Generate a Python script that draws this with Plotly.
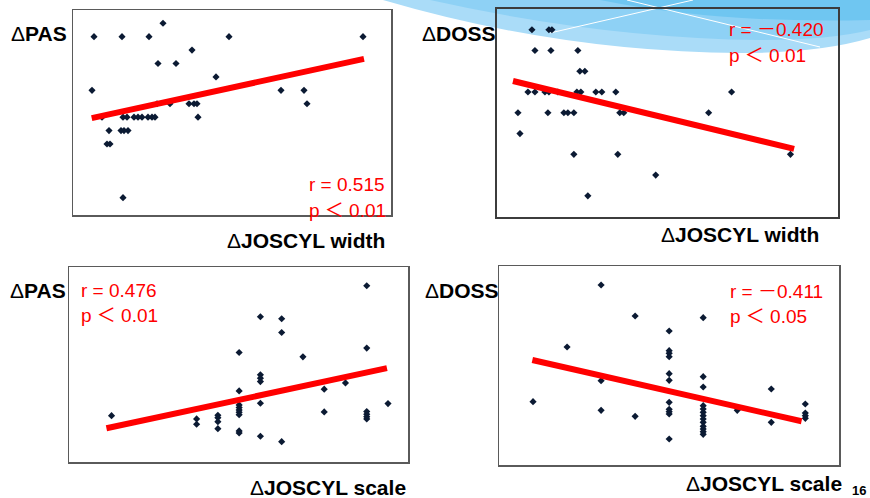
import plotly.graph_objects as go

W, H = 870, 498

# ---------------- data (arbitrary linear units) ----------------
# Panel 1: ΔJOSCYL width vs ΔPAS
p1_x = [9.0, 2.1, 4.9, 7.6, 15.6, 29.0, 11.9, 8.5, 10.3, 14.3, 1.9, 20.8, 23.1,
        8.4, 9.7, 11.6, 12.1, 12.4, 23.4,
        2.9, 5.0, 5.4, 6.1, 6.5, 6.9, 7.5, 7.9, 8.2, 12.5,
        3.6, 4.8, 5.1, 5.5, 3.4, 3.7, 5.0]
p1_y = [7, 6, 6, 6, 6, 6, 5, 4, 4, 3, 2, 2, 2,
        1, 1, 1, 1, 1, 1,
        0, 0, 0, 0, 0, 0, 0, 0, 0, 0,
        -1, -1, -1, -1, -2, -2, -6]
p1_fit_x = [1.87, 29.1]
p1_fit_y = [-0.07, 4.35]

# Panel 2: ΔJOSCYL width vs ΔDOSS
p2_x = [3.5, 5.2, 5.5, 3.8, 5.4, 8.1, 8.3, 8.8,
        3.1, 3.8, 4.8, 5.2, 6.1, 8.0, 8.4, 9.9, 10.5, 11.9, 23.5,
        2.1, 5.1, 6.7, 7.1, 7.7, 12.3, 12.7, 21.2,
        2.3, 7.7, 12.1, 29.4, 15.9, 9.1]
p2_y = [3, 3, 3, 2, 2, 2, 1, 1,
        0, 0, 0, 0, 0, 0, 0, 0, 0, 0, 0,
        -1, -1, -1, -1, -1, -1, -1, -1,
        -2, -3, -3, -3, -4, -5]
p2_fit_x = [1.6, 29.76]
p2_fit_y = [0.53, -2.74]

# Panel 3: ΔJOSCYL scale vs ΔPAS
p3_x = [0, 4, 4, 5, 5, 5, 5,
        6, 6, 6, 6, 6, 6, 6, 6, 6,
        7, 7, 7, 7, 7, 7,
        8, 8, 8, 9, 10, 10, 11,
        12, 12, 12, 12, 12, 12, 13]
p3_y = [4.63, 4.3, 3.77, 4.67, 4.43, 4.03, 3.33,
        10.93, 7.1, 5.7, 5.43, 5.2, 4.97, 4.73, 3.1, 2.9,
        14.5, 8.7, 8.37, 8.03, 5.87, 2.57,
        14.3, 12.93, 2.03, 10.5, 7.27, 5.0, 7.9,
        17.6, 11.37, 5.03, 4.77, 4.53, 4.3, 5.83]
p3_fit_x = [-0.24, 12.95]
p3_fit_y = [3.37, 9.37]

# Panel 4: ΔJOSCYL scale vs ΔDOSS
p4_x = [0, 1, 2, 2, 2, 3, 3,
        4, 4, 4, 4, 4, 4, 4, 4, 4, 4, 4,
        5, 5, 5, 5, 5, 5, 5, 5, 5, 5, 5, 5, 5,
        6, 7, 7, 8, 8, 8, 8]
p4_y = [6.33, 11.8, 18.0, 8.43, 5.47, 14.9, 4.87,
        13.4, 11.43, 11.17, 10.83, 9.13, 8.47, 6.27, 5.57, 5.33, 5.1, 2.6,
        14.73, 8.83, 7.8, 5.93, 5.6, 5.27, 4.93, 4.6, 4.27, 3.87, 3.6, 3.33, 3.07,
        5.47, 7.6, 4.27, 6.1, 5.2, 4.93, 4.67]
p4_fit_x = [-0.02, 7.89]
p4_fit_y = [10.5, 4.37]

stats = [("r = 0.515", "p ＜ 0.01"), ("r = －0.420", "p ＜ 0.01"),
         ("r = 0.476", "p ＜ 0.01"), ("r = －0.411", "p ＜ 0.05")]
y_labels = ["ΔPAS", "ΔDOSS", "ΔPAS", "ΔDOSS"]
x_labels = ["ΔJOSCYL width", "ΔJOSCYL width", "ΔJOSCYL scale", "ΔJOSCYL scale"]
page_number = "16"

# ---------------- layout helpers (pixels -> paper) ----------------
def PX(px):
    return px / W

def PY(py):
    return 1 - py / H

panels = [
    dict(x=p1_x, y=p1_y, fx=p1_fit_x, fy=p1_fit_y, box=(73, 10, 391, 215),
         xr=[0, 31.8], yr=[-7.29, 7.99], lc="#5a5a5a", lw=1.5),
    dict(x=p2_x, y=p2_y, fx=p2_fit_x, fy=p2_fit_y, box=(497, 9, 838, 217),
         xr=[0, 34.16], yr=[-6.02, 4.0], lc="#3c3c3c", lw=2),
    dict(x=p3_x, y=p3_y, fx=p3_fit_x, fy=p3_fit_y, box=(69, 267, 408, 462),
         xr=[-2.0, 13.94], yr=[0, 19.47], lc="#5a5a5a", lw=1.5),
    dict(x=p4_x, y=p4_y, fx=p4_fit_x, fy=p4_fit_y, box=(499, 266, 839, 465),
         xr=[-1.0, 8.99], yr=[0, 19.9], lc="#5a5a5a", lw=1.5),
]

fig = go.Figure()
layout_axes = {}
for i, p in enumerate(panels, start=1):
    xa = "x" if i == 1 else f"x{i}"
    ya = "y" if i == 1 else f"y{i}"
    fig.add_trace(go.Scatter(x=p["x"], y=p["y"], mode="markers", xaxis=xa, yaxis=ya,
                             marker=dict(symbol="diamond", size=5.5, color="#0b1a33"),
                             showlegend=False, hoverinfo="skip"))
    fig.add_trace(go.Scatter(x=p["fx"], y=p["fy"], mode="lines", xaxis=xa, yaxis=ya,
                             line=dict(color="#ff0000", width=6),
                             showlegend=False, hoverinfo="skip"))
    l, t, r, b = p["box"]
    common = dict(showgrid=False, zeroline=False, showticklabels=False, ticks="",
                  showline=True, mirror=True, linecolor=p["lc"], linewidth=p["lw"],
                  fixedrange=True)
    layout_axes["xaxis" if i == 1 else f"xaxis{i}"] = dict(
        domain=[PX(l), PX(r)], range=p["xr"], anchor=ya, **common)
    layout_axes["yaxis" if i == 1 else f"yaxis{i}"] = dict(
        domain=[PY(b), PY(t)], range=p["yr"], anchor=xa, **common)

fig.update_layout(**layout_axes)

# ---------------- decorative swoosh (top right) ----------------
shapes = [
    dict(type="path", xref="paper", yref="paper", layer="below", line=dict(width=0),
         fillcolor="#aadcf8",
         path=f"M {PX(383)},{PY(0)} Q {PX(560)},{PY(52)} {PX(740)},{PY(53)} "
              f"Q {PX(820)},{PY(53)} {PX(870)},{PY(38)} L {PX(870)},{PY(0)} Z"),
    dict(type="path", xref="paper", yref="paper", layer="below", line=dict(width=0),
         fillcolor="#8ed1f5",
         path=f"M {PX(430)},{PY(0)} Q {PX(600)},{PY(38)} {PX(760)},{PY(40)} "
              f"Q {PX(830)},{PY(40)} {PX(870)},{PY(30)} L {PX(870)},{PY(0)} Z"),
    dict(type="path", xref="paper", yref="paper", layer="below", line=dict(width=0),
         fillcolor="#6fc6f1",
         path=f"M {PX(600)},{PY(0)} Q {PX(720)},{PY(24)} {PX(870)},{PY(20)} "
              f"L {PX(870)},{PY(0)} Z"),
    dict(type="line", xref="paper", yref="paper", layer="below",
         x0=PX(550), y0=PY(33), x1=PX(693), y1=PY(0), line=dict(color="white", width=1)),
    dict(type="line", xref="paper", yref="paper", layer="below",
         x0=PX(627), y0=PY(0), x1=PX(820), y1=PY(47), line=dict(color="white", width=1)),
]

# ---------------- text ----------------
LBL_FONT = dict(family="Liberation Sans, Arial, sans-serif", size=21, color="#000000")
RED_FONT = dict(family="Liberation Sans, Noto Sans CJK JP, sans-serif", size=19, color="#ff0000")

def lbl(txt):
    return "Δ<b>" + txt[1:] + "</b>"

annotations = []
ylab_pos = [(39, 34), (459, 34), (38, 290), (462, 290)]
xlab_pos = [(306, 240), (740, 234), (328, 487), (764, 483)]
stat_pos = [(307, 185, 210), (727, 30, 55), (79, 290, 315), (728, 291, 316)]
for i in range(4):
    annotations.append(dict(text=lbl(y_labels[i]), x=PX(ylab_pos[i][0]), y=PY(ylab_pos[i][1]),
                            xref="paper", yref="paper", showarrow=False,
                            xanchor="center", yanchor="middle", font=LBL_FONT))
    annotations.append(dict(text=lbl(x_labels[i]), x=PX(xlab_pos[i][0]), y=PY(xlab_pos[i][1]),
                            xref="paper", yref="paper", showarrow=False,
                            xanchor="center", yanchor="middle", font=LBL_FONT))
    sx, sy1, sy2 = stat_pos[i]
    annotations.append(dict(text=stats[i][0], x=PX(sx), y=PY(sy1), xref="paper", yref="paper",
                            showarrow=False, xanchor="left", yanchor="middle", font=RED_FONT))
    annotations.append(dict(text=stats[i][1], x=PX(sx), y=PY(sy2), xref="paper", yref="paper",
                            showarrow=False, xanchor="left", yanchor="middle", font=RED_FONT))

annotations.append(dict(text="<b>" + page_number + "</b>", x=PX(859), y=PY(490),
                        xref="paper", yref="paper", showarrow=False,
                        xanchor="center", yanchor="middle",
                        font=dict(family="Liberation Sans, Arial, sans-serif", size=13,
                                  color="#000000")))

fig.update_layout(width=W, height=H, margin=dict(l=0, r=0, t=0, b=0),
                  paper_bgcolor="white", plot_bgcolor="rgba(0,0,0,0)",
                  shapes=shapes, annotations=annotations, showlegend=False)

fig.write_html("out.html", config={"displayModeBar": False, "staticPlot": True},
               post_script="document.body.style.margin='0';"
                           "document.body.style.overflow='hidden';")
